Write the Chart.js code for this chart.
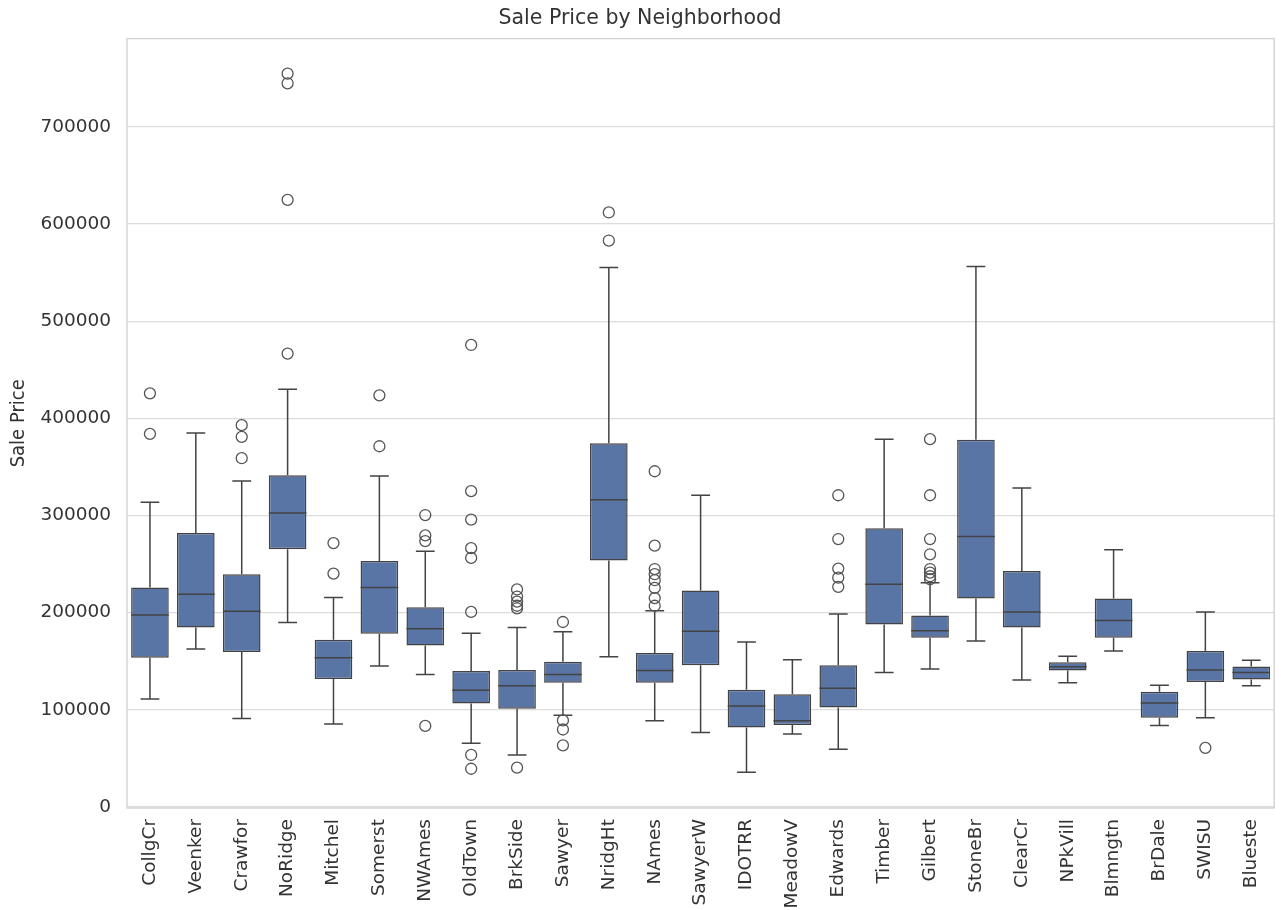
<!DOCTYPE html>
<html>
<head>
<meta charset="utf-8">
<script src="https://cdn.jsdelivr.net/npm/chart.js@4"></script>
<style>
  html, body { margin: 0; padding: 0; background: #fff; overflow: hidden; }
  #wrap { width: 1281px; height: 910px; }
</style>
</head>
<body>
<div id="wrap"><canvas id="chart"></canvas></div>
<script>
const neighborhoods = ["CollgCr", "Veenker", "Crawfor", "NoRidge", "Mitchel", "Somerst", "NWAmes",
  "OldTown", "BrkSide", "Sawyer", "NridgHt", "NAmes", "SawyerW", "IDOTRR", "MeadowV", "Edwards",
  "Timber", "Gilbert", "StoneBr", "ClearCr", "NPkVill", "Blmngtn", "BrDale", "SWISU", "Blueste"];

const whiskerLow = [111000, 162500, 91000, 190000, 85500, 145000, 136300, 65500, 53500, 94400, 154700,
  88600, 76600, 35700, 75000, 59300, 138400, 142100, 170900, 130600, 127900, 160500, 83900, 91800, 124800];
const q1 = [153600, 184600, 159400, 265300, 131600, 178300, 166200, 106400, 101200, 127900, 253800,
  127900, 145800, 81800, 84400, 102300, 187700, 174100, 214500, 184600, 140500, 174100, 91800, 128500, 131100];
const median = [197500, 219000, 201400, 302600, 153600, 226000, 183500, 120100, 124800, 136300, 316200,
  140500, 180900, 103800, 88600, 122200, 229200, 181400, 278400, 200800, 144200, 191900, 107000, 141100, 138400];
const q3 = [226000, 282000, 239600, 341400, 172000, 253300, 205600, 140000, 141100, 149400, 374400,
  158400, 222900, 120600, 115900, 145800, 286800, 197200, 378100, 242800, 148900, 214500, 118500, 160500, 144700];
const whiskerHigh = [313600, 385000, 335600, 430000, 215500, 340800, 263300, 178800, 184600, 180400, 555300,
  201900, 320900, 169900, 151500, 198700, 378600, 230700, 556400, 328300, 155200, 264800, 125300, 200800, 151000];
const outliers = [
  [425800, 384000],
  [],
  [393000, 381000, 359000],
  [755000, 745000, 625000, 466700],
  [271600, 240200],
  [423700, 371300],
  [300500, 279500, 273700, 83400],
  [475600, 325100, 295800, 266400, 256400, 200800, 53500, 39300],
  [223900, 216600, 211300, 207100, 204500, 40400],
  [190400, 89100, 79700, 63400],
  [612000, 583100],
  [345600, 269000, 244900, 239600, 233400, 225500, 215000, 207100],
  [], [], [],
  [320900, 275800, 245400, 236000, 226500],
  [],
  [378600, 320900, 275800, 260100, 244900, 241200, 237500, 234400],
  [], [], [], [], [],
  [60800],
  []
];
const yTicks = [0, 100000, 200000, 300000, 400000, 500000, 600000, 700000];

const boxFill = "#5875a5";
const lineColor = "#434343";
const textColor = "#333333";
const font = "'DejaVu Sans', sans-serif";

const outlierPoints = [];
outliers.forEach((vals, i) => vals.forEach(v => outlierPoints.push({ x: neighborhoods[i], y: v })));

// whiskers, caps, medians and the light frame round the plot
const boxExtras = {
  id: "boxExtras",
  beforeDatasetsDraw(chart) {
    const { ctx, scales: { x, y } } = chart;
    const meta = chart.getDatasetMeta(0);
    ctx.save();
    ctx.strokeStyle = lineColor;
    ctx.lineWidth = 1.5;
    neighborhoods.forEach((_, i) => {
      const cx = x.getPixelForValue(i);
      const half = meta.data[i].width / 4;
      ctx.beginPath();
      ctx.moveTo(cx, y.getPixelForValue(whiskerLow[i]));
      ctx.lineTo(cx, y.getPixelForValue(q1[i]));
      ctx.moveTo(cx, y.getPixelForValue(q3[i]));
      ctx.lineTo(cx, y.getPixelForValue(whiskerHigh[i]));
      ctx.moveTo(cx - half, y.getPixelForValue(whiskerLow[i]));
      ctx.lineTo(cx + half, y.getPixelForValue(whiskerLow[i]));
      ctx.moveTo(cx - half, y.getPixelForValue(whiskerHigh[i]));
      ctx.lineTo(cx + half, y.getPixelForValue(whiskerHigh[i]));
      ctx.stroke();
    });
    ctx.restore();
  },
  afterDatasetsDraw(chart) {
    const { ctx, chartArea, scales: { x, y } } = chart;
    const meta = chart.getDatasetMeta(0);
    ctx.save();
    ctx.strokeStyle = lineColor;
    ctx.lineWidth = 1.5;
    neighborhoods.forEach((_, i) => {
      const cx = x.getPixelForValue(i);
      const half = meta.data[i].width / 2;
      const my = y.getPixelForValue(median[i]);
      ctx.beginPath();
      ctx.moveTo(cx - half, my);
      ctx.lineTo(cx + half, my);
      ctx.stroke();
    });
    ctx.strokeStyle = "#d6d6d6";
    ctx.lineWidth = 1.5;
    ctx.strokeRect(chartArea.left, chartArea.top, chartArea.right - chartArea.left, chartArea.bottom - chartArea.top);
    ctx.restore();
  }
};

new Chart(document.getElementById("chart"), {
  data: {
    labels: neighborhoods,
    datasets: [
      {
        type: "bar",
        data: q1.map((v, i) => [v, q3[i]]),
        backgroundColor: boxFill,
        borderColor: lineColor,
        borderWidth: 1.5,
        borderSkipped: false,
        categoryPercentage: 1,
        barPercentage: 0.82,
        order: 2
      },
      {
        type: "line",
        data: outlierPoints,
        showLine: false,
        pointStyle: "circle",
        pointRadius: 5.5,
        pointBorderWidth: 1.3,
        pointBackgroundColor: "rgba(255,255,255,0)",
        pointBorderColor: "#555555",
        order: 1
      }
    ]
  },
  options: {
    responsive: true,
    maintainAspectRatio: false,
    animation: false,
    layout: { padding: { right: 1, left: 0, top: 0, bottom: 0 } },
    plugins: {
      legend: { display: false },
      tooltip: { enabled: false },
      title: {
        display: true,
        text: "Sale Price by Neighborhood",
        color: textColor,
        font: { family: font, size: 20.5, weight: "normal" },
        padding: { top: 6, bottom: 8 }
      }
    },
    scales: {
      x: {
        type: "category",
        offset: true,
        grid: { display: false },
        border: { display: false },
        ticks: {
          color: textColor,
          font: { family: font, size: 18.5 },
          minRotation: 90,
          maxRotation: 90,
          autoSkip: false,
          padding: 3
        },
        afterFit(scale) {
          scale.height = 102;
          scale.paddingLeft = 0;
          scale.paddingRight = 0;
        }
      },
      y: {
        min: -1100,
        max: 791000,
        grid: { color: "#dcdcdc", lineWidth: 1.3, drawTicks: false },
        border: { display: false },
        afterBuildTicks(scale) { scale.ticks = yTicks.map(v => ({ value: v })); },
        ticks: {
          color: textColor,
          font: { family: font, size: 18.5 },
          padding: 16,
          callback: v => String(v)
        },
        title: {
          display: true,
          text: "Sale Price",
          color: textColor,
          font: { family: "'DejaVu Sans Condensed', 'DejaVu Sans', sans-serif", size: 20 },
          padding: { top: 7, bottom: 4 }
        },
        afterFit(scale) { scale.width = 127; }
      }
    }
  },
  plugins: [boxExtras]
});
</script>
</body>
</html>
